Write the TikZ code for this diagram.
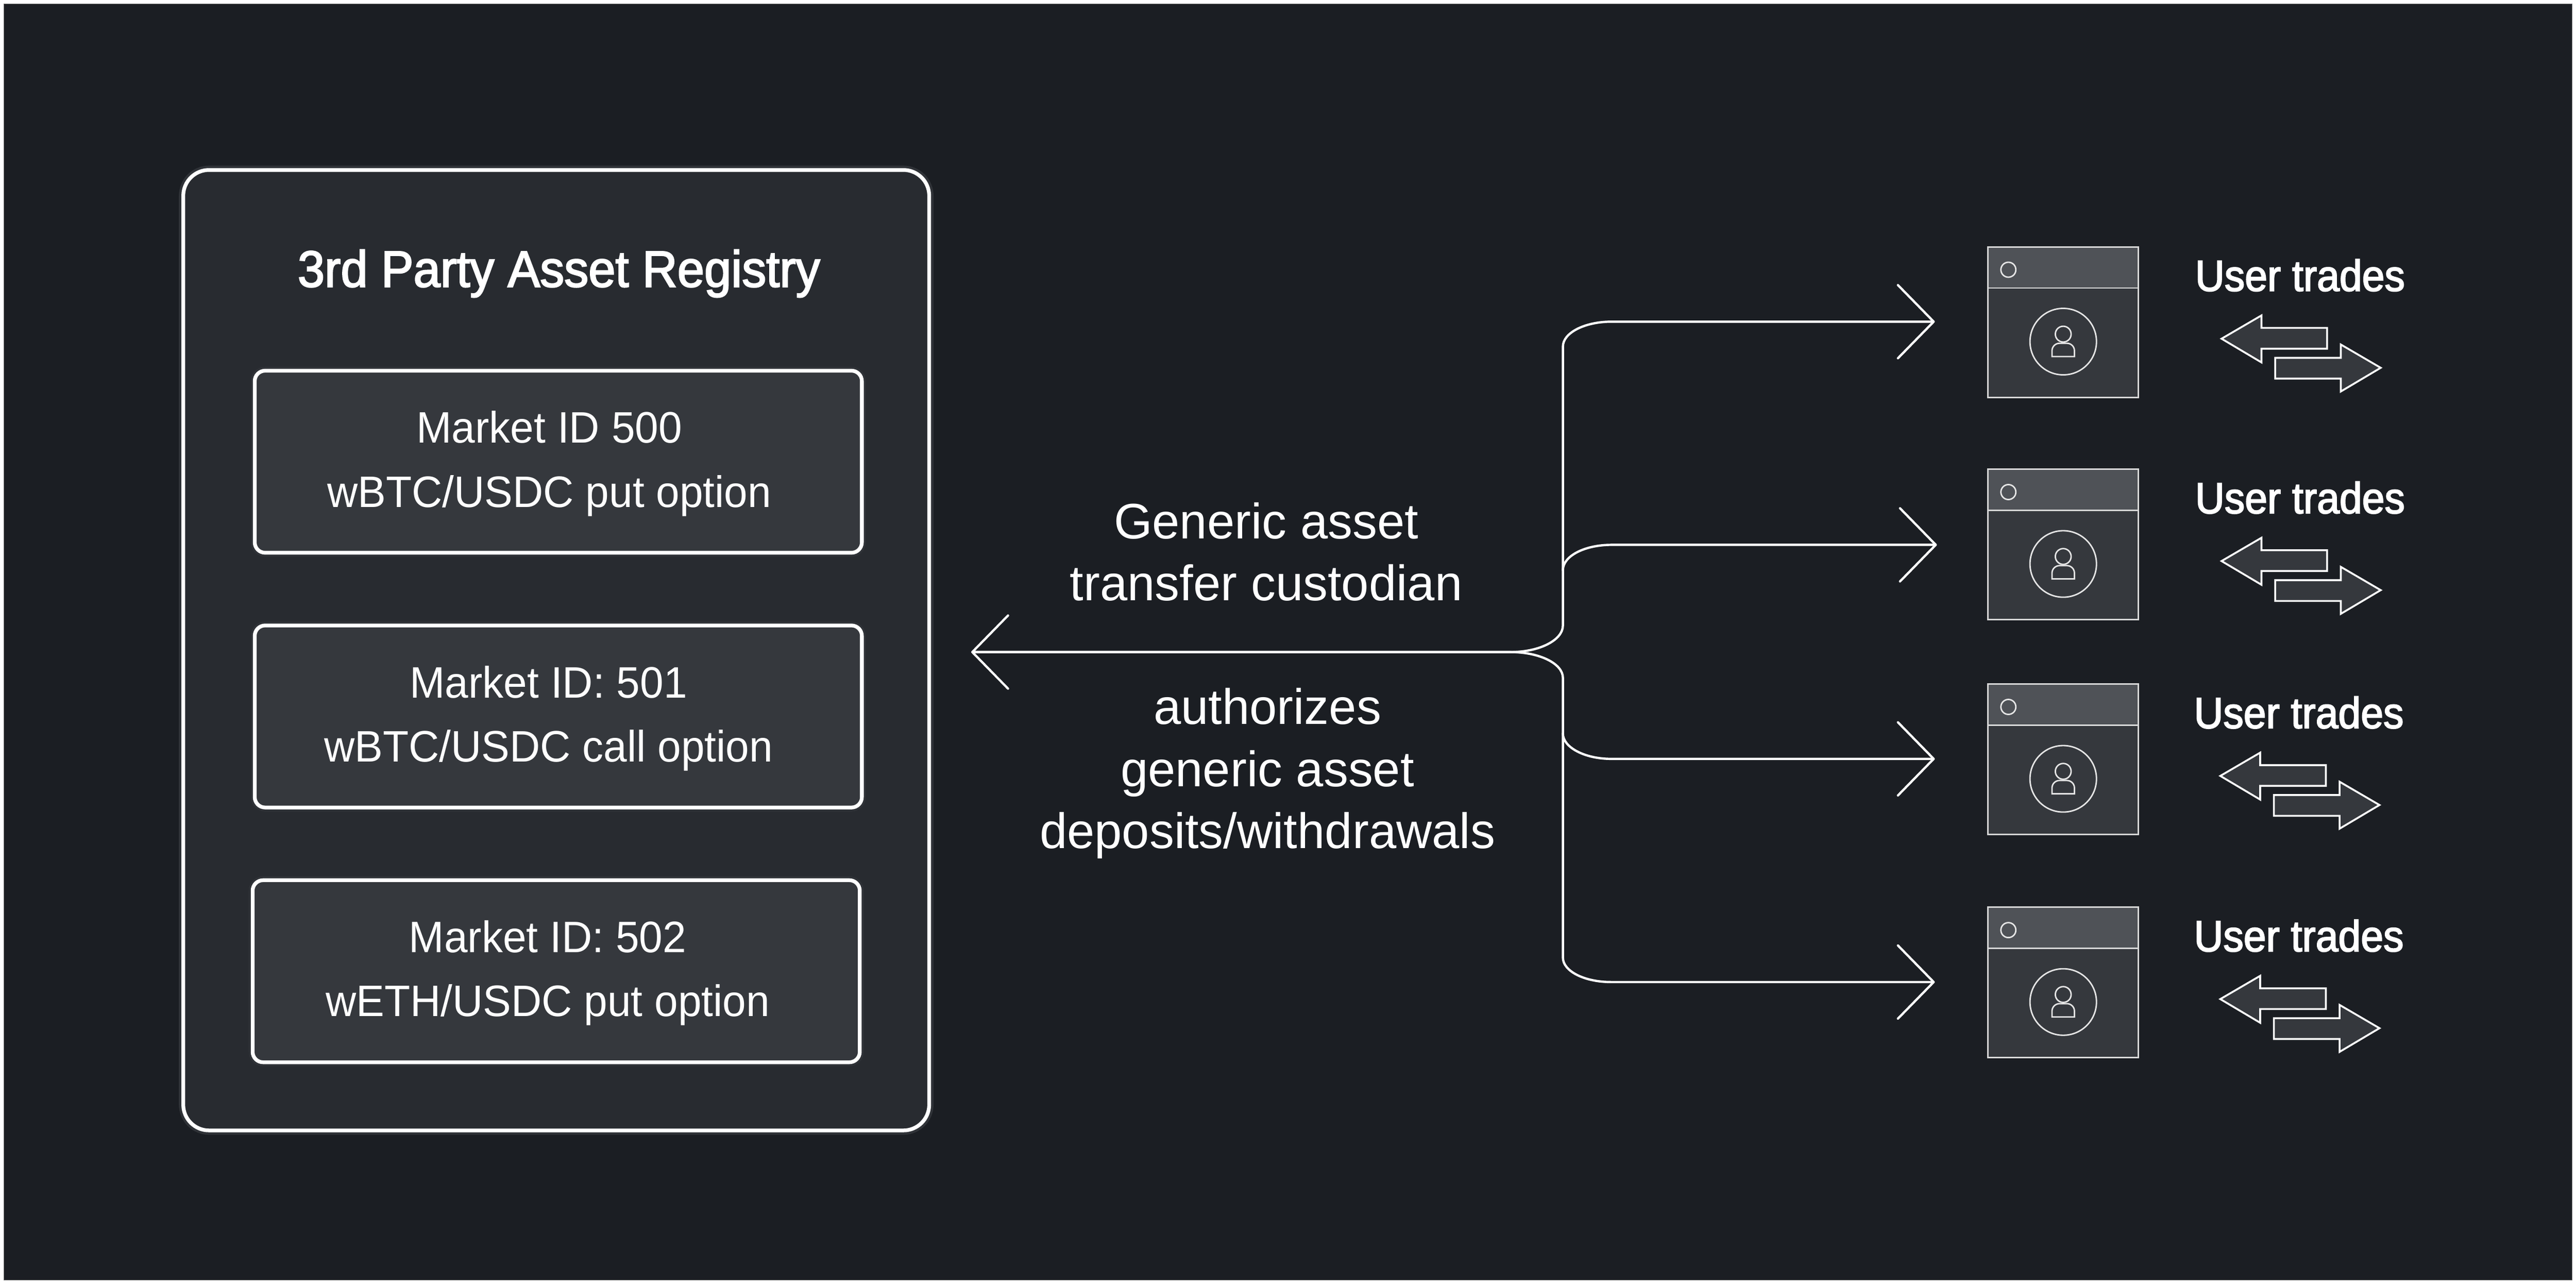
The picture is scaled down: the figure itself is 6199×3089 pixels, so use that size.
\documentclass[tikz,border=0pt]{standalone}
\usepackage{fontspec}
\usepackage{tikz}
\usetikzlibrary{arrows.meta}
\setmainfont{Liberation Sans}
\newfontfamily\regfont[FakeStretch=0.96]{Liberation Sans}
\newfontfamily\midfont[FakeStretch=0.99]{Liberation Sans}
\newfontfamily\medfont[FakeStretch=0.93,FakeBold=2.5]{Liberation Sans}
\newfontfamily\titlefont[FakeStretch=0.948,FakeBold=2.5]{Liberation Sans}
\definecolor{pagebg}{HTML}{1B1E23}
\definecolor{panelbg}{HTML}{282B30}
\definecolor{cardbg}{HTML}{35383D}
\definecolor{halo}{HTML}{2F3237}
\definecolor{titlebar}{HTML}{4F5257}

\begin{document}
\begin{tikzpicture}[x=1pt, y=-1pt,
    panel/.style={draw=white, fill=panelbg, line width=9pt, rounded corners=62pt, outer sep=0pt, anchor=north west,
      minimum width=1795pt, minimum height=2311pt, preaction={draw=halo, line width=21pt}},
    card/.style={draw=white, fill=cardbg, line width=9pt, rounded corners=25pt, outer sep=0pt, anchor=north west,
      minimum width=1461pt, minimum height=438pt, preaction={draw=halo, line width=19pt}},
    winbody/.style={draw=white!85!black, fill=cardbg, line width=3.5pt, outer sep=0pt, anchor=north west,
      minimum width=362pt, minimum height=362pt},
    winbar/.style={draw=white!85!black, fill=titlebar, line width=3.5pt, outer sep=0pt, anchor=north west,
      minimum width=362pt, minimum height=99pt},
    ring/.style={circle, draw=white!90!black, line width=3.5pt, inner sep=0pt, outer sep=0pt},
    swap/.style={draw=white, fill=cardbg, line width=4.5pt},
    flow/.style={draw=white, line width=5.5pt, line cap=round},
    tipped/.style={flow, -{Straight Barb[length=86pt,width=176pt,line width=5.5pt,round]}},
    cardtext/.style={text=white, align=center, anchor=base, inner sep=0pt, font=\fontsize{106}{154}\regfont},
    midtext/.style={text=white, align=center, anchor=base, inner sep=0pt, font=\fontsize{120}{149}\midfont},
    headtext/.style={text=white, anchor=base, inner sep=0pt, font=\fontsize{123}{150}\titlefont},
    usertext/.style={text=white, anchor=base, inner sep=0pt, font=\fontsize{105}{120}\medfont}]
  \useasboundingbox (0,0) rectangle (6199,3089);
  \node[draw=gray, fill=pagebg, line width=1pt, outer sep=0pt, anchor=north west, minimum width=6181pt, minimum height=3071pt] (page) at (9,9) {};

  % registry
  \node[panel] (registry) at (441,409) {};
  \node[headtext] (regtitle) at (1345,690) {3rd Party Asset Registry};
  \foreach \i/\x/\y/\tx/\txt in {1/613/892/1322/{Market ID 500\\wBTC/USDC put option},
      2/613/1505/1320/{Market ID: 501\\wBTC/USDC call option},
      3/608/2118/1318/{Market ID: 502\\wETH/USDC put option}} {
    \node[card] (market\i) at (\x,\y) {};
    \node[cardtext] (markettext\i) at (\tx,\y+328) {\txt};
  }

  % labels on the connector
  \node[midtext] (custodian) at (3047,1445) {Generic asset\\transfer custodian};
  \node[midtext] (authorizes) at (3050,2041) {authorizes\\generic asset\\deposits/withdrawals};

  % connectors
  \coordinate (hub) at (3635,1569);
  \coordinate (regtip) at (2337,1569);
  \coordinate (tip1) at (4656,774);
  \coordinate (tip2) at (4661,1311);
  \coordinate (tip3) at (4656,1826);
  \coordinate (tip4) at (4656,2363);
  \draw[tipped] (hub) -- (regtip);
  \draw[tipped] (hub) .. controls +(70,0) and +(0,35) .. (3761,1505) -- (3761,834)
    .. controls +(0,-33) and +(-65,0) .. (3878,774) -- (tip1);
  \draw[tipped] (3761,1372) .. controls +(0,-34) and +(-65,0) .. (3878,1311) -- (tip2);
  \draw[tipped] (hub) .. controls +(70,0) and +(0,-34) .. (3761,1631) -- (3761,2304)
    .. controls +(0,33) and +(-64,0) .. (3877,2363) -- (tip4);
  \draw[tipped] (3761,1765) .. controls +(0,33) and +(-64,0) .. (3877,1826) -- (tip3);

  % user windows
  \foreach \i/\wy/\ax in {1/594/0, 2/1129/0, 3/1646/-3, 4/2183/-3} {
    \node[winbody] (win\i) at (4784,\wy) {};
    \node[winbar] (bar\i) at (4784,\wy) {};
    \begin{scope}[shift={(4784,\wy)}]
      \node[ring, minimum size=36pt] (dot\i) at (49,55) {};
      \node[ring, minimum size=160pt] (avatar\i) at (181,228) {};
      \node[ring, minimum size=38pt] (head\i) at (181,210) {};
      \draw[draw=white!90!black, line width=3.5pt]
        (154,264) [rounded corners=18pt] -- (154,232) -- (208,232) [sharp corners] -- (208,264) -- cycle;
      \node[usertext] (trades\i) at (751+\ax,106) {User trades};
      \draw[swap] (562+\ax,221) -- (658+\ax,165) -- (658+\ax,195) -- (816+\ax,195) -- (816+\ax,245)
        -- (658+\ax,245) -- (658+\ax,278) -- cycle;
      \draw[swap] (945+\ax,291) -- (849+\ax,235) -- (849+\ax,267) -- (691+\ax,267) -- (691+\ax,317)
        -- (849+\ax,317) -- (849+\ax,348) -- cycle;
    \end{scope}
  }
\end{tikzpicture}
\end{document}
